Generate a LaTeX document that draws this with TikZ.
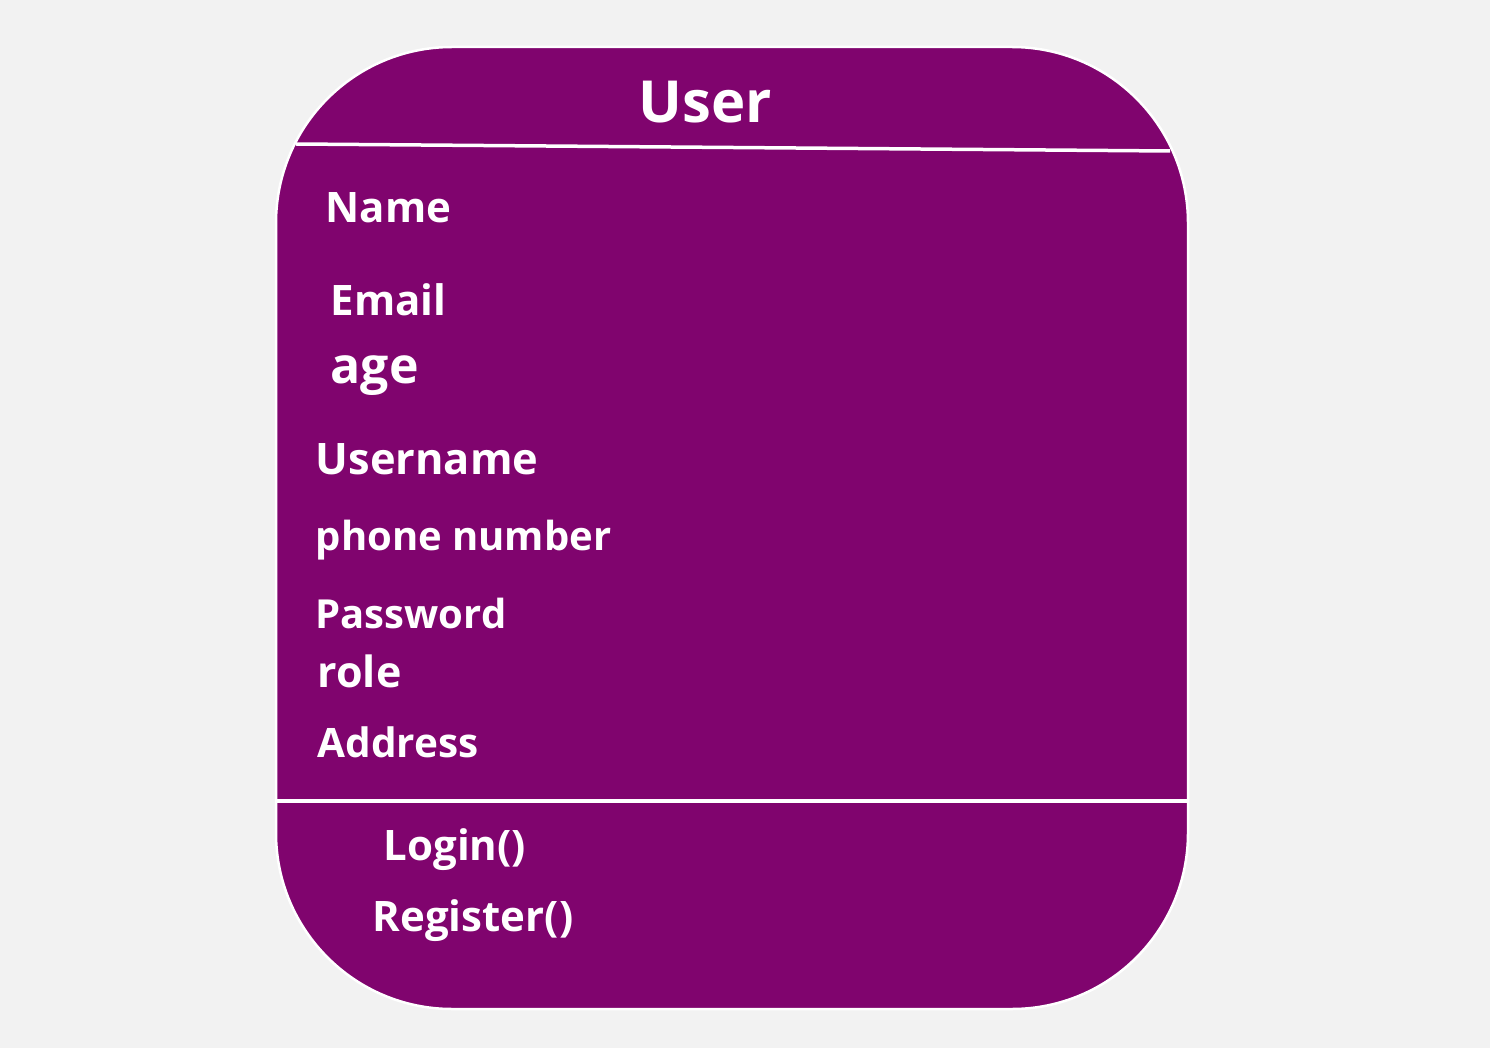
\documentclass[tikz,border=0pt]{standalone}
\usepackage{fontspec}
\setmainfont{Open Sans}
\definecolor{umlpurple}{RGB}{128,4,110}
\definecolor{pagegray}{RGB}{242,242,242}

\begin{document}
\begin{tikzpicture}[
        x=1pt,
        y=-1pt,
        every node/.style={text=white, inner sep=0pt, anchor=base west},
        attr/.style={font=\bfseries\fontsize{#1}{#1}\selectfont},
        attr/.default=41,
        title/.style={anchor=base, font=\bfseries\fontsize{58}{58}\selectfont},
        divider/.style={draw=white, line width=3.5pt}
    ]
    \fill[pagegray] (0,0) rectangle (1490,1048);
    \useasboundingbox (0,0) rectangle (1490,1048);
    \draw[white, line width=2.5pt, fill=umlpurple, rounded corners=176pt] (276,47) rectangle (1188,1009);

    \coordinate (tl) at (296,144);
    \coordinate (tr) at (1170,151);
    \coordinate (bl) at (276,801);
    \coordinate (br) at (1188,801);
    \draw[divider] (tl) -- (tr);
    \draw[divider] (bl) -- (br);

    \node[title] (user) at (705,123) {User};

    \node[attr=42] (name) at (325.5,223) {Name};
    \node[attr=42] (email) at (330.5,316) {Email};
    \node[attr=50] (age) at (330.5,383) {age};
    \node[attr=43.4] (username) at (315.5,474) {Username};
    \node[attr=40] (phone) at (315.5,550) {phone number};
    \node[attr=40] (password) at (315.5,628) {Password};
    \node[attr=43] (role) at (317.5,687) {role};
    \node[attr=40.5] (address) at (317.5,757) {Address};

    \node[attr=42] (login) at (383.5,860) {Login()};
    \node[attr=42] (register) at (372.5,931) {Register()};
\end{tikzpicture}
\end{document}
